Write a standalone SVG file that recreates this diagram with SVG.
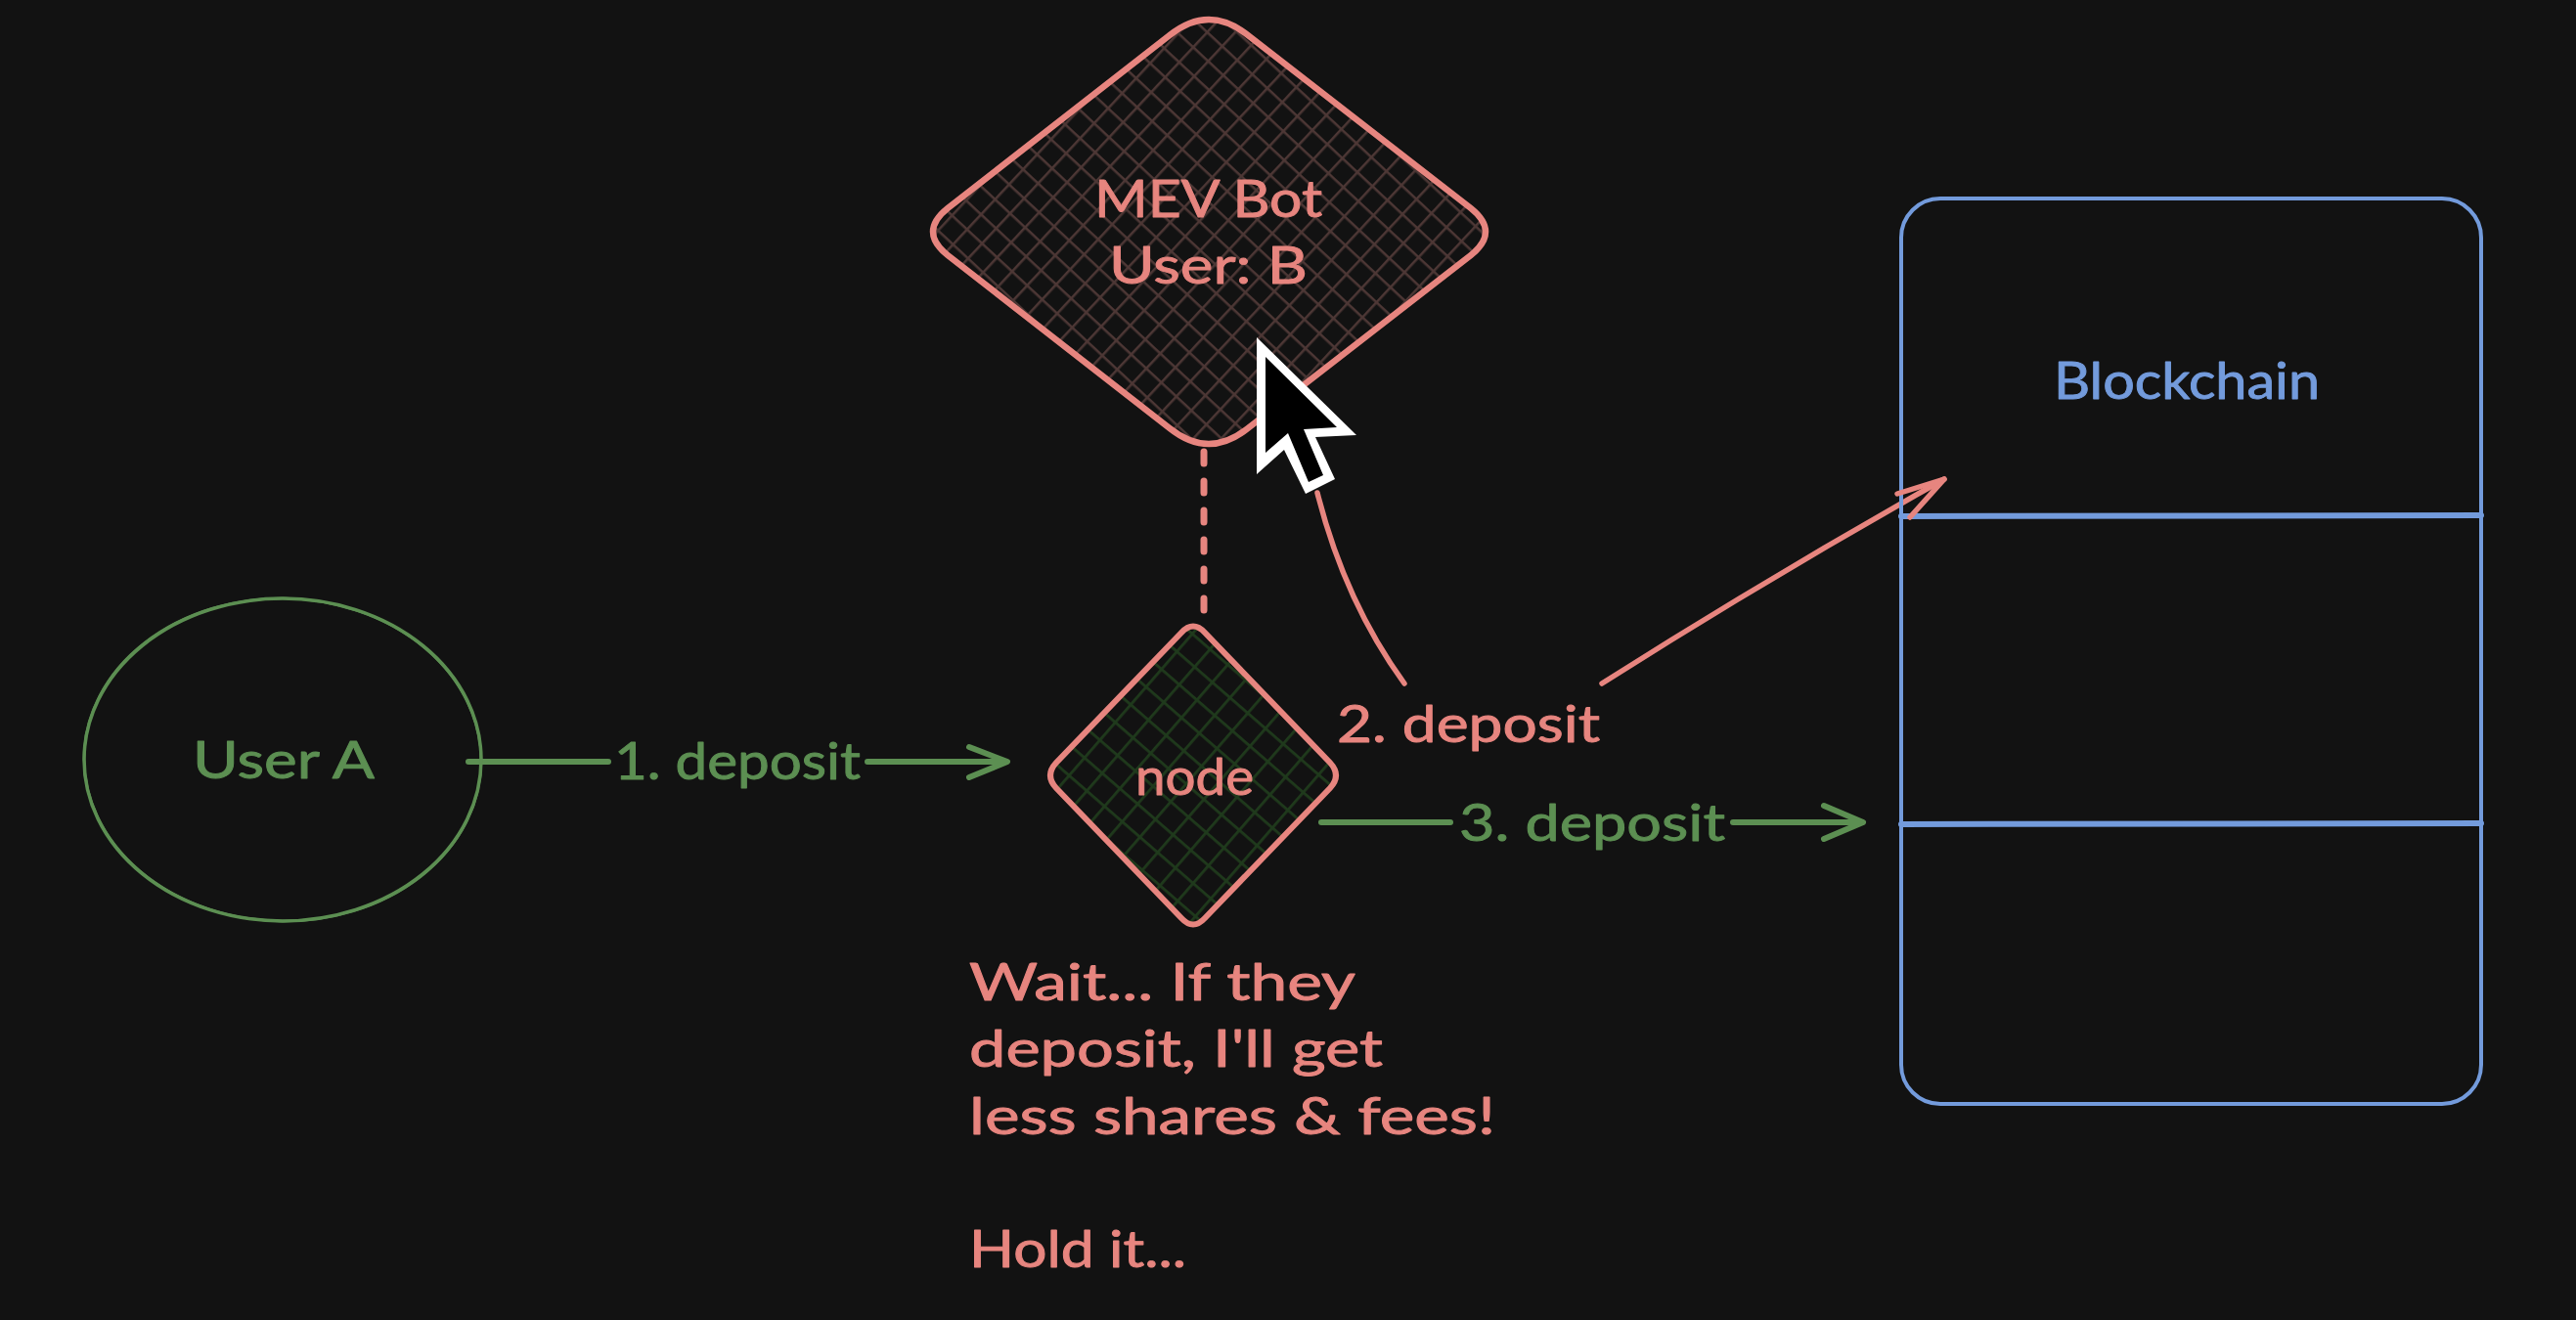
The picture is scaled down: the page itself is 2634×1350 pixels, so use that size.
<svg xmlns="http://www.w3.org/2000/svg" width="2634" height="1350" viewBox="0 0 2634 1350">
<style>
text{font-family:"Lato","Noto Sans",sans-serif;font-size:52px;stroke-width:.9px;stroke-linejoin:round}
.r{fill:#e7857f;stroke:#e7857f}.g{fill:#5c8f52;stroke:#5c8f52}.b{fill:#739bdc;stroke:#739bdc}
.rs,.gs,.bs{fill:none;stroke-linecap:round;stroke-linejoin:round}
.rs{stroke:#e7857f;stroke-width:5.5}.gs{stroke:#5c8f52;stroke-width:6}.bs{stroke:#739bdc;stroke-width:4}
</style>
<defs>
<pattern id="hr" patternUnits="userSpaceOnUse" width="21" height="21" patternTransform="rotate(43)">
<path d="M0 0H21M0 0V21" stroke="#4d3735" stroke-width="5" fill="none"/>
</pattern>
<pattern id="hg" patternUnits="userSpaceOnUse" width="24" height="24" patternTransform="rotate(41)">
<path d="M0 0H24M0 0V24" stroke="#1f3a1c" stroke-width="5.5" fill="none"/>
</pattern>
</defs>
<rect width="2634" height="1350" fill="#121212"/>
<g id="connectors">
<path class="rs" style="stroke-width:7" d="M1231 462V630" stroke-dasharray="12 18"/>
<path class="gs" d="M479 779H622"/>
<path class="gs" d="M887 779H1028M991 764L1030 779L991 795"/>
<path class="gs" d="M1351 841H1483"/>
<path class="gs" d="M1772 841H1903M1865 824L1905 841L1865 858"/>
<path class="rs" d="M1436 699Q1375 615 1347 504"/>
<path class="rs" d="M1638 699Q1810 590 1988 490"/>
</g>
<g id="user-a">
<ellipse class="gs" style="stroke-width:3.5" cx="289" cy="777" rx="203" ry="165"/>
<ellipse class="gs" style="stroke-width:2.5" cx="289" cy="777" rx="203" ry="165" transform="rotate(1.2 289 777)"/>
<text class="g" x="197" y="796" textLength="186" lengthAdjust="spacingAndGlyphs">User A</text>
</g>
<g id="label-1"><text class="g" x="628" y="797" textLength="252" lengthAdjust="spacingAndGlyphs">1. deposit</text></g>
<g id="node">
<path d="M1208 647Q1220 634 1232 647L1360 780Q1372 793 1360 806L1232 939Q1220 952 1208 939L1080 806Q1068 793 1080 780Z" fill="url(#hg)" stroke="#e7857f" stroke-width="6"/>
<text class="r" x="1161" y="813" textLength="121" lengthAdjust="spacingAndGlyphs">node</text>
</g>
<g id="label-2"><text class="r" x="1367" y="759" textLength="269" lengthAdjust="spacingAndGlyphs">2. deposit</text></g>
<g id="label-3"><text class="g" x="1492" y="860" textLength="272" lengthAdjust="spacingAndGlyphs">3. deposit</text></g>
<g id="mev-bot">
<path d="M1196 36Q1236 4 1276 36L1504 213Q1534 237 1504 261L1276 438Q1236 470 1196 438L969 261Q939 237 969 213Z" fill="url(#hr)" stroke="#e7857f" stroke-width="6.5"/>
<text class="r" x="1119" y="222" textLength="233" lengthAdjust="spacingAndGlyphs">MEV Bot</text>
<text class="r" x="1134" y="290" textLength="203" lengthAdjust="spacingAndGlyphs">User: B</text>
</g>
<g id="blockchain">
<rect class="bs" x="1944" y="203" width="593" height="926" rx="40"/>
<path class="bs" style="stroke-width:6" d="M1944 528L2537 527M1944 843L2537 842"/>
<text class="b" x="2100" y="408" textLength="272" lengthAdjust="spacingAndGlyphs">Blockchain</text>
</g>
<path class="rs" d="M1940 505L1988 490L1953 529"/>
<g id="note">
<text class="r" x="991" y="1023" textLength="395" lengthAdjust="spacingAndGlyphs">Wait... If they</text>
<text class="r" x="991" y="1091" textLength="423" lengthAdjust="spacingAndGlyphs">deposit, I'll get</text>
<text class="r" x="991" y="1160" textLength="538" lengthAdjust="spacingAndGlyphs">less shares &amp; fees!</text>
<text class="r" x="991" y="1296" textLength="222" lengthAdjust="spacingAndGlyphs">Hold it...</text>
</g>
<g id="cursor">
<path d="M1285 345V485L1313 460L1335 505L1365 490L1345 447L1387 445Z" fill="#fff"/>
<path d="M1294 365V463L1317 443L1338 493L1353 486L1333 439L1367 437Z" fill="#000"/>
</g>
</svg>
